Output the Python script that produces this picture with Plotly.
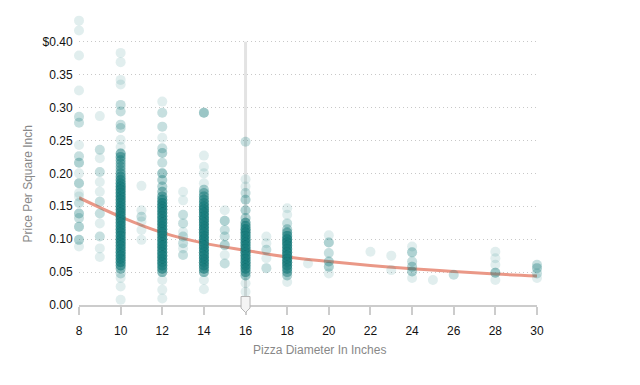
import numpy as np
import plotly.graph_objects as go

# ---- data: price per square inch by diameter (value, count) ----
d08_price = [0.432, 0.417, 0.379, 0.326, 0.286, 0.277, 0.243, 0.226, 0.216, 0.200, 0.185, 0.170, 0.165, 0.155, 0.139, 0.132, 0.119, 0.099, 0.089]
d08_count = [1, 1, 1, 1, 2, 2, 1, 2, 3, 1, 3, 1, 1, 2, 3, 2, 3, 3, 1]

d09_price = [0.287, 0.236, 0.223, 0.202, 0.187, 0.172, 0.157, 0.139, 0.124, 0.104, 0.086, 0.073]
d09_count = [1, 2, 1, 2, 1, 1, 2, 2, 1, 2, 1, 1]

d10_price = [0.383, 0.369, 0.342, 0.335, 0.304, 0.294, 0.274, 0.269, 0.251, 0.240,
             0.230, 0.225, 0.220, 0.215, 0.210, 0.205, 0.200, 0.195, 0.190, 0.185,
             0.180, 0.175, 0.170, 0.165, 0.160, 0.155, 0.150, 0.145, 0.140, 0.135,
             0.130, 0.125, 0.120, 0.115, 0.110, 0.105, 0.100, 0.095, 0.090, 0.085,
             0.080, 0.075, 0.070, 0.065, 0.060, 0.055,
             0.048, 0.041, 0.028, 0.008]
d10_count = [1, 1, 1, 1, 2, 2, 2, 2, 1, 1,
             5, 5, 4, 4, 4, 4, 5, 6, 7, 8,
             9, 9, 9, 9, 9, 9, 9, 9, 9, 9,
             9, 9, 9, 9, 9, 9, 9, 9, 9, 9,
             9, 9, 9, 8, 7, 4,
             2, 1, 1, 1]

d11_price = [0.181, 0.144, 0.134, 0.127, 0.114, 0.099]
d11_count = [1, 1, 2, 1, 1, 1]

d12_price = [0.309, 0.292, 0.271, 0.254, 0.238, 0.231, 0.216, 0.200, 0.190, 0.180, 0.172,
             0.165, 0.160, 0.155, 0.150, 0.145, 0.140, 0.135, 0.130, 0.125, 0.120,
             0.115, 0.110, 0.105, 0.100, 0.095, 0.090, 0.085, 0.080, 0.075, 0.070,
             0.065, 0.060, 0.055, 0.050,
             0.038, 0.023, 0.010]
d12_count = [1, 2, 2, 1, 2, 3, 2, 4, 3, 3, 4,
             6, 7, 9, 9, 9, 9, 9, 9, 9, 9,
             9, 9, 9, 9, 9, 9, 9, 9, 9, 9,
             9, 8, 7, 5,
             1, 1, 1]

d13_price = [0.172, 0.159, 0.137, 0.124, 0.111, 0.104, 0.094, 0.086, 0.076]
d13_count = [1, 1, 2, 2, 1, 2, 2, 1, 2]

d14_price = [0.292, 0.227, 0.210, 0.200, 0.185, 0.175,
             0.170, 0.165, 0.160, 0.155, 0.150, 0.145, 0.140, 0.135, 0.130, 0.125,
             0.120, 0.115, 0.110, 0.105, 0.100, 0.095, 0.090, 0.085, 0.080, 0.075,
             0.070, 0.065, 0.060, 0.055, 0.050,
             0.038, 0.024]
d14_count = [4, 1, 1, 1, 1, 3,
             4, 5, 6, 7, 8, 9, 9, 9, 9, 9,
             9, 9, 9, 9, 9, 9, 9, 9, 9, 9,
             9, 9, 8, 7, 5,
             1, 1]

d15_price = [0.144, 0.128, 0.114, 0.104, 0.091, 0.076, 0.063]
d15_count = [1, 3, 2, 2, 3, 1, 2]

d16_price = [0.248, 0.191, 0.180, 0.170, 0.160, 0.144, 0.132,
             0.125, 0.120, 0.115, 0.110, 0.105, 0.100, 0.095, 0.090, 0.085, 0.080,
             0.075, 0.070, 0.065, 0.060, 0.055, 0.050, 0.045,
             0.033, 0.020]
d16_count = [2, 1, 1, 2, 3, 3, 3,
             6, 7, 9, 9, 9, 9, 9, 9, 9, 9,
             9, 9, 9, 9, 8, 6, 4,
             1, 1]

d17_price = [0.104, 0.094, 0.084, 0.071, 0.056]
d17_count = [1, 1, 2, 1, 2]

d18_price = [0.147, 0.137, 0.124, 0.115, 0.110, 0.105, 0.100, 0.095, 0.090, 0.085,
             0.080, 0.075, 0.070, 0.065, 0.060, 0.055, 0.050, 0.045, 0.035]
d18_count = [1, 1, 2, 3, 5, 7, 9, 9, 9, 9,
             9, 9, 9, 9, 8, 7, 5, 3, 1]

d19_price = [0.063]
d19_count = [1]

d20_price = [0.106, 0.095, 0.079, 0.066, 0.058, 0.048]
d20_count = [1, 3, 2, 3, 3, 1]

d22_price = [0.081]
d22_count = [1]

d23_price = [0.075, 0.053]
d23_count = [1, 1]

d24_price = [0.089, 0.080, 0.066, 0.058, 0.051, 0.041]
d24_count = [1, 3, 2, 3, 3, 1]

d25_price = [0.038]
d25_count = [1]

d26_price = [0.046]
d26_count = [2]

d28_price = [0.081, 0.071, 0.061, 0.049, 0.038]
d28_count = [1, 1, 1, 4, 1]

d30_price = [0.061, 0.056, 0.048, 0.041]
d30_count = [2, 3, 2, 1]

# fitted trend line
trend_diameter = [8, 10, 12, 14, 16, 18, 20, 22, 24, 26, 28, 30]
trend_price = [0.163, 0.134, 0.110, 0.094, 0.083, 0.073, 0.066, 0.060, 0.055, 0.051, 0.047, 0.044]

x_ticks = [8, 10, 12, 14, 16, 18, 20, 22, 24, 26, 28, 30]
y_ticks = [0.0, 0.05, 0.10, 0.15, 0.20, 0.25, 0.30, 0.35, 0.40]
y_tick_text = ["0.00", "0.05", "0.10", "0.15", "0.20", "0.25", "0.30", "0.35", "$0.40"]
selected_diameter = 16

groups = [
    (8, d08_price, d08_count), (9, d09_price, d09_count), (10, d10_price, d10_count),
    (11, d11_price, d11_count), (12, d12_price, d12_count), (13, d13_price, d13_count),
    (14, d14_price, d14_count), (15, d15_price, d15_count), (16, d16_price, d16_count),
    (17, d17_price, d17_count), (18, d18_price, d18_count), (19, d19_price, d19_count),
    (20, d20_price, d20_count), (22, d22_price, d22_count), (23, d23_price, d23_count),
    (24, d24_price, d24_count), (25, d25_price, d25_count), (26, d26_price, d26_count),
    (28, d28_price, d28_count), (30, d30_price, d30_count),
]

xs, ys = [], []
for d, prices, counts in groups:
    rep = np.repeat(prices, counts)
    ys.extend(rep.tolist())
    xs.extend([d] * len(rep))

FONT = "Helvetica Neue, Helvetica, Arial, Liberation Sans, sans-serif"

# page body has an 8px margin; figure sized so the plot area lands at 79..537 x 10..305
OFF = 8
PL, PR, PT, PB = 79 - OFF, 537 - OFF, 10 - OFF, 305 - OFF
FIG_W, FIG_H = 632, 377
PW, PH = PR - PL, PB - PT


def px_to_paper(px, py):
    return (px - OFF - PL) / PW, (PB - (py - OFF)) / PH


fig = go.Figure()
fig.add_trace(go.Scatter(
    x=trend_diameter, y=trend_price, mode="lines", line_shape="spline",
    line=dict(color="#ea9887", width=3), hoverinfo="skip", cliponaxis=False,
))
fig.add_trace(go.Scatter(
    x=xs, y=ys, mode="markers", cliponaxis=False,
    marker=dict(size=10, color="#1a7f78", opacity=0.13, line=dict(width=0)),
))

x_min, x_max = 8, 30
y_max = 0.4482

ytx, yty = px_to_paper(27, 184.5)
xtx, xty = px_to_paper(319.5, 350)

fig.update_layout(
    width=FIG_W, height=FIG_H,
    margin=dict(l=PL, r=FIG_W - PR, t=PT, b=FIG_H - PB, autoexpand=False),
    plot_bgcolor="white", paper_bgcolor="white",
    showlegend=False,
    font=dict(family=FONT, size=12, color="#111"),
    xaxis=dict(
        range=[x_min, x_max], tickvals=x_ticks, showgrid=False, zeroline=False,
        showline=True, linecolor="#cccccc", linewidth=2,
        ticks="outside", ticklen=8, tickwidth=2, tickcolor="#cccccc",
        ticklabelstandoff=6,
        tickfont=dict(size=12, color="#111"),
    ),
    yaxis=dict(
        range=[0, y_max], tickvals=y_ticks, ticktext=y_tick_text,
        showgrid=True, gridcolor="#c8c8c8", griddash="1px,3px", gridwidth=1,
        zeroline=False, showline=False,
        ticks="outside", ticklen=3, tickcolor="rgba(0,0,0,0)",
        tickfont=dict(size=12, color="#111"),
    ),
    shapes=[
        dict(type="line", xref="x", yref="y", x0=selected_diameter, x1=selected_diameter,
             y0=0, y1=0.40, line=dict(color="#e3e3e3", width=3), layer="below"),
        dict(type="path", xref="paper", yref="paper",
             xsizemode="pixel", ysizemode="pixel",
             xanchor=(selected_diameter - x_min) / (x_max - x_min), yanchor=0,
             path="M-4.5,8.5 L4.5,8.5 L4.5,-3 L0,-7.5 L-4.5,-3 Z",
             fillcolor="#f4f4f4", line=dict(color="#b5b5b5", width=1), layer="above"),
    ],
    annotations=[
        dict(text="Price Per Square Inch", xref="paper", yref="paper",
             x=ytx, y=yty, textangle=-90,
             showarrow=False, font=dict(size=12, color="#888"),
             xanchor="center", yanchor="middle"),
        dict(text="Pizza Diameter In Inches", xref="paper", yref="paper",
             x=xtx, y=xty,
             showarrow=False, font=dict(size=12, color="#888"),
             xanchor="center", yanchor="middle"),
    ],
)

fig.write_html("out.html")
